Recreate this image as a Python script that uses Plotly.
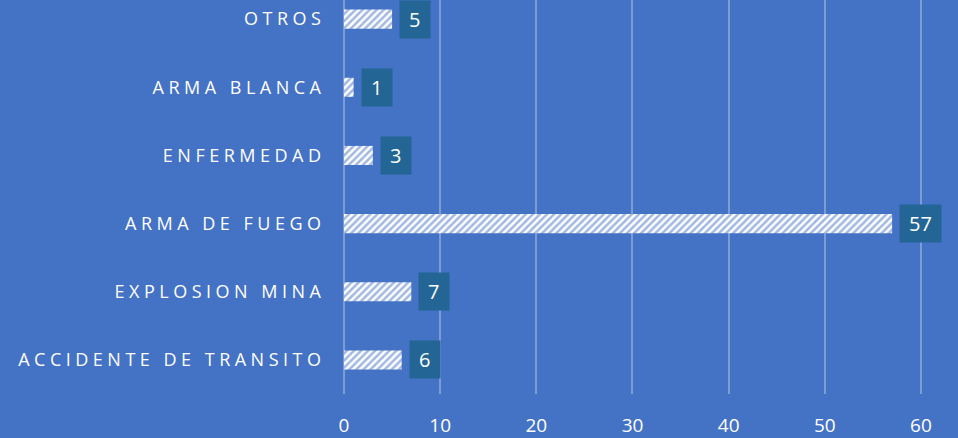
import plotly.graph_objects as go

categories = ["ACCIDENTE DE TRANSITO", "EXPLOSION MINA", "ARMA DE FUEGO", "ENFERMEDAD", "ARMA BLANCA", "OTROS"]
values = [6, 7, 57, 3, 1, 5]
x_ticks = [0, 10, 20, 30, 40, 50, 60]

BG = "#4472C4"
BOX = "#236696"

def spaced(s):
    return "\u2005".join(list(s))

fig = go.Figure()
fig.add_trace(go.Bar(
    y=categories, x=values, orientation="h",
    marker=dict(color="white", line=dict(width=0),
                pattern=dict(shape="/", fgcolor=BG, bgcolor="white", size=5, solidity=0.5)),
    width=0.28, hoverinfo="skip",
))

for c, v in zip(categories, values):
    t = str(v)
    fig.add_annotation(x=v, y=c, xref="x", yref="y", text=t, showarrow=False,
                       xanchor="left", yanchor="middle", xshift=7,
                       bgcolor=BOX, borderpad=5, width=11.5 * len(t) + 8, height=27,
                       font=dict(family="Open Sans", size=20, color="white"))

fig.update_layout(
    width=958, height=438,
    margin=dict(l=344, r=0, t=0, b=42),
    paper_bgcolor=BG, plot_bgcolor=BG,
    showlegend=False,
    xaxis=dict(range=[0, 63.85], tickvals=x_ticks, showgrid=True,
               gridcolor="rgba(255,255,255,0.3)", gridwidth=1.5,
               zeroline=True, zerolinecolor="rgba(255,255,255,0.3)", zerolinewidth=1.5,
               tickfont=dict(family="Open Sans", size=19, color="white"),
               ticks="", ticklabelstandoff=18, fixedrange=True),
    yaxis=dict(range=[-0.5, 5.281], categoryorder="array", categoryarray=categories,
               tickvals=categories, ticktext=[spaced(c) for c in categories],
               showgrid=False, zeroline=False, ticks="",
               tickfont=dict(family="Open Sans", size=18, color="white"),
               ticklabelstandoff=22, fixedrange=True),
)

fig.write_html("out.html", config={"displayModeBar": False},
               post_script="document.body.style.margin='0';document.body.style.overflow='hidden';")
